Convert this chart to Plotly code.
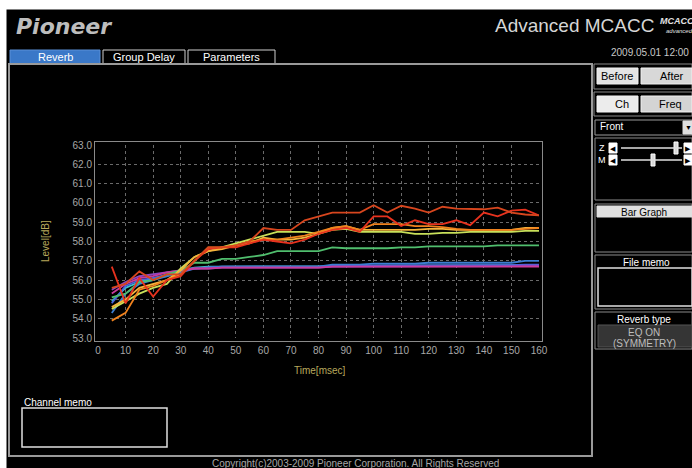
import plotly.graph_objects as go

# ---- data ----
TIME = [5, 10, 15, 20, 25, 30, 35, 40, 45, 50, 55, 60, 65, 70, 75, 80,
        85, 90, 95, 100, 105, 110, 115, 120, 125, 130, 135, 140, 145, 150, 155, 160]

magenta = [55.3, 55.8, 56.1, 56.2, 56.4, 56.5, 56.6, 56.6, 56.65, 56.65, 56.65, 56.65, 56.65, 56.65, 56.65, 56.65,
           56.7, 56.7, 56.7, 56.7, 56.7, 56.7, 56.7, 56.7, 56.7, 56.7, 56.7, 56.7, 56.7, 56.7, 56.7, 56.7]
purple = [55.5, 55.9, 56.2, 56.3, 56.4, 56.5, 56.6, 56.6, 56.65, 56.65, 56.65, 56.65, 56.65, 56.65, 56.65, 56.65,
          56.7, 56.7, 56.7, 56.7, 56.72, 56.72, 56.72, 56.72, 56.72, 56.72, 56.72, 56.72, 56.72, 56.72, 56.75, 56.75]
royal = [54.8, 55.7, 56.0, 56.1, 56.3, 56.5, 56.6, 56.65, 56.7, 56.7, 56.7, 56.7, 56.7, 56.7, 56.7, 56.7,
         56.75, 56.75, 56.75, 56.75, 56.75, 56.75, 56.75, 56.78, 56.78, 56.78, 56.78, 56.78, 56.78, 56.78, 56.8, 56.8]
blue = [54.3, 55.3, 55.8, 56.0, 56.2, 56.4, 56.6, 56.65, 56.7, 56.7, 56.7, 56.7, 56.7, 56.7, 56.7, 56.7,
        56.8, 56.8, 56.8, 56.85, 56.85, 56.85, 56.85, 56.9, 56.9, 56.9, 56.9, 56.9, 56.9, 56.9, 57.0, 57.0]
cyan = [54.9, 55.6, 55.9, 56.1, 56.2, 56.5, 56.65, 56.7, 56.7, 56.7, 56.7, 56.7, 56.7, 56.7, 56.7, 56.7,
        56.72, 56.72, 56.72, 56.75, 56.75, 56.75, 56.75, 56.75, 56.75, 56.75, 56.75, 56.75, 56.75, 56.75, 56.78, 56.78]
green = [55.1, 55.3, 55.9, 56.0, 56.3, 56.5, 56.9, 56.9, 57.1, 57.1, 57.2, 57.3, 57.5, 57.5, 57.5, 57.5,
         57.7, 57.65, 57.65, 57.65, 57.65, 57.7, 57.7, 57.75, 57.75, 57.75, 57.75, 57.75, 57.8, 57.8, 57.8, 57.8]
lime = [54.5, 54.9, 55.3, 55.6, 55.8, 56.6, 57.2, 57.5, 57.7, 57.9, 58.1, 58.3, 58.5, 58.5, 58.5, 58.4,
        58.6, 58.65, 58.5, 58.5, 58.5, 58.5, 58.4, 58.4, 58.45, 58.45, 58.5, 58.5, 58.5, 58.5, 58.55, 58.55]
yellow = [54.6, 55.0, 55.6, 55.8, 56.0, 56.5, 57.2, 57.5, 57.6, 57.8, 57.9, 58.2, 58.1, 58.1, 58.2, 58.4,
          58.7, 58.8, 58.6, 58.6, 58.6, 58.6, 58.6, 58.65, 58.65, 58.6, 58.6, 58.6, 58.6, 58.6, 58.7, 58.7]
orange = [53.9, 54.3, 55.5, 55.7, 56.0, 56.3, 57.0, 57.7, 57.7, 57.8, 58.0, 58.1, 58.1, 58.2, 58.3, 58.5,
          58.7, 58.8, 58.6, 58.9, 58.9, 58.9, 58.8, 58.8, 58.75, 58.65, 58.6, 58.6, 58.6, 58.6, 58.65, 58.7]
red = [56.7, 54.8, 56.1, 55.15, 56.0, 56.2, 57.0, 57.6, 57.7, 57.7, 57.9, 58.1, 58.0, 57.9, 58.1, 58.4,
       58.6, 58.7, 58.5, 59.3, 59.3, 58.8, 59.1, 58.9, 58.9, 59.1, 58.85, 59.5, 59.3, 59.6, 59.65, 59.35]
darkred = [55.6, 55.8, 56.45, 56.0, 56.3, 56.3, 57.0, 57.7, 57.7, 57.8, 58.0, 58.7, 58.6, 58.6, 59.1, 59.3,
           59.5, 59.5, 59.5, 59.88, 59.5, 59.85, 59.7, 59.5, 59.8, 59.7, 59.7, 59.67, 59.75, 59.5, 59.4, 59.35]

SERIES = [
    (cyan, "#3cc0c8"), (royal, "#4a64dc"), (blue, "#3c7ed2"), (purple, "#8c46be"),
    (magenta, "#c83c9c"), (green, "#50be6e"), (lime, "#c8e05a"), (yellow, "#f5b43c"),
    (orange, "#f0821e"), (red, "#e8321e"), (darkred, "#d8461e"),
]

Y_TICKS = [53, 54, 55, 56, 57, 58, 59, 60, 61, 62, 63]
X_TICKS = [0, 10, 20, 30, 40, 50, 60, 70, 80, 90, 100, 110, 120, 130, 140, 150, 160]

# ---- page geometry (pixels) ----
W, H = 692, 468
L, R, T, B = 98, 539, 145, 338
FONT = "Liberation Sans, Arial, sans-serif"


def fx(p):
    return (p - L) / (R - L)


def fy(p):
    return (B - p) / (B - T)


shapes = []
annotations = []


def rect(x0, y0, x1, y1, fill="rgba(0,0,0,0)", line="#8a8a8a", lw=1):
    shapes.append(dict(type="rect", xref="paper", yref="paper",
                       x0=fx(x0), x1=fx(x1), y0=fy(y1), y1=fy(y0),
                       fillcolor=fill, line=dict(color=line, width=lw), layer="below"))


def hline(x0, x1, y, color="#ffffff", lw=1):
    shapes.append(dict(type="line", xref="paper", yref="paper",
                       x0=fx(x0), x1=fx(x1), y0=fy(y), y1=fy(y),
                       line=dict(color=color, width=lw)))


def text(x, y, s, size=10, color="#ffffff", xanchor="center", family=FONT, angle=0):
    annotations.append(dict(xref="paper", yref="paper", x=fx(x), y=fy(y), text=s,
                            showarrow=False, xanchor=xanchor, yanchor="middle",
                            textangle=angle, font=dict(size=size, color=color, family=family)))


# white page edges
rect(0, 0, W, 9, fill="#ffffff", line="#ffffff")
rect(0, 0, 6, H, fill="#ffffff", line="#ffffff")

# header
text(14, 26, "<b><i>Pioneer</i></b>", size=22, color="#bdbdbd", xanchor="left",
     family="DejaVu Sans, sans-serif")
text(656, 25, "Advanced MCACC", size=19, color="#d6d6d6", xanchor="right")
text(677, 21, "<i><b>MCACC</b></i>", size=9, color="#e0e0e0")
text(679, 31, "<i>advanced</i>", size=6, color="#e0e0e0")
text(691, 52, "2009.05.01 12:00", size=10, color="#c8c8c8", xanchor="right")

# tabs and main frame
rect(10, 50, 100, 64, fill="#3a78c8", line="#5a90d8")
text(55, 57, "Reverb", size=11)
rect(103, 50, 185, 64, fill="#000000", line="#d0d0d0")
text(144, 57, "Group Delay", size=11)
rect(188, 50, 275, 64, fill="#000000", line="#d0d0d0")
text(231, 57, "Parameters", size=11)
rect(9, 64, 592, 456, line="#9a9a9a", lw=2)

# axis titles
text(45, 241, "Level[dB]", size=10, color="#b8a95c", angle=-90)
text(320, 370, "Time[msec]", size=10, color="#b8a95c")

# channel memo
text(22, 402, "Channel memo", size=10, xanchor="left")
rect(22, 408, 167, 447, fill="#000000", line="#e0e0e0", lw=1.5)

# right panel
rect(594, 64, 692, 89, line="#8a8a8a")
rect(597, 68, 638, 84, fill="#e4e4e4", line="#f0f0f0")
text(617, 76, "Before", size=11, color="#000000")
rect(641, 68, 692, 84, fill="#d8d8d8", line="#f0f0f0")
text(672, 76, "After", size=11, color="#000000")
rect(594, 92, 692, 116, line="#8a8a8a")
rect(597, 96, 638, 112, fill="#ececec", line="#f4f4f4")
text(622, 104, "Ch", size=11, color="#000000")
rect(641, 96, 692, 112, fill="#d4d4d4", line="#f0f0f0")
text(670, 104, "Freq", size=11, color="#000000")
rect(595, 120, 692, 135, fill="#000000", line="#9a9a9a")
text(598, 127, "Front", size=10, xanchor="left")
rect(683, 121, 692, 134, fill="#e0e0e0", line="#e0e0e0")
text(688, 128, "▼", size=7, color="#000000")
rect(595, 138, 692, 200, line="#8a8a8a")
for yy, knob, lab in [(148, 676, "Z"), (160, 653, "M")]:
    text(602, yy, lab, size=9, color="#ffffff")
    rect(609, yy - 5, 617, yy + 5, fill="#ffffff", line="#ffffff")
    text(613, yy, "◀", size=7, color="#000000")
    hline(621, 682, yy, color="#e0e0e0", lw=1.5)
    rect(knob - 2, yy - 6, knob + 2, yy + 6, fill="#d8d8d8", line="#ffffff")
    rect(684, yy - 5, 692, yy + 5, fill="#ffffff", line="#ffffff")
    text(688, yy, "▶", size=7, color="#000000")
rect(595, 204, 692, 252, line="#8a8a8a")
rect(597, 206, 692, 217, fill="#e0e0e0", line="#e0e0e0")
text(644, 212, "Bar Graph", size=10, color="#000000")
rect(595, 255, 692, 309, line="#8a8a8a")
text(646, 262, "File memo", size=10)
rect(598, 268, 692, 306, fill="#000000", line="#e0e0e0", lw=1.5)
rect(595, 312, 692, 349, line="#8a8a8a")
text(644, 319, "Reverb type", size=10)
rect(598, 325, 692, 347, fill="#353535", line="#555555")
text(644, 332, "EQ ON", size=10, color="#bdbdbd")
text(644, 343, "(SYMMETRY)", size=10, color="#bdbdbd")

# footer
text(355, 463, "Copyright(c)2003-2009 Pioneer Corporation. All Rights Reserved",
     size=10, color="#a8a8a8")

fig = go.Figure()
for values, color in SERIES:
    fig.add_trace(go.Scatter(x=TIME, y=values, mode="lines",
                             line=dict(color=color, width=1.8), hoverinfo="x+y"))

axis_style = dict(showgrid=True, gridcolor="#6a6a6a", griddash="3px,3px", gridwidth=1,
                  showline=True, linecolor="#8a8a8a", linewidth=1, mirror=True,
                  ticks="", zeroline=False,
                  tickfont=dict(size=10, color="#a8a8a8", family=FONT))

fig.update_layout(
    width=W, height=H,
    margin=dict(l=L, r=W - R, t=T, b=H - B, pad=3),
    paper_bgcolor="#000000", plot_bgcolor="#000000",
    showlegend=False,
    shapes=shapes, annotations=annotations,
    xaxis=dict(range=[0, 160], tickvals=X_TICKS, **axis_style),
    yaxis=dict(range=[53, 63], tickvals=Y_TICKS, tickformat=".1f", **axis_style),
)

fig.write_html("out.html", config={"displayModeBar": False},
               post_script="document.body.style.margin='0';document.body.style.overflow='hidden';")
